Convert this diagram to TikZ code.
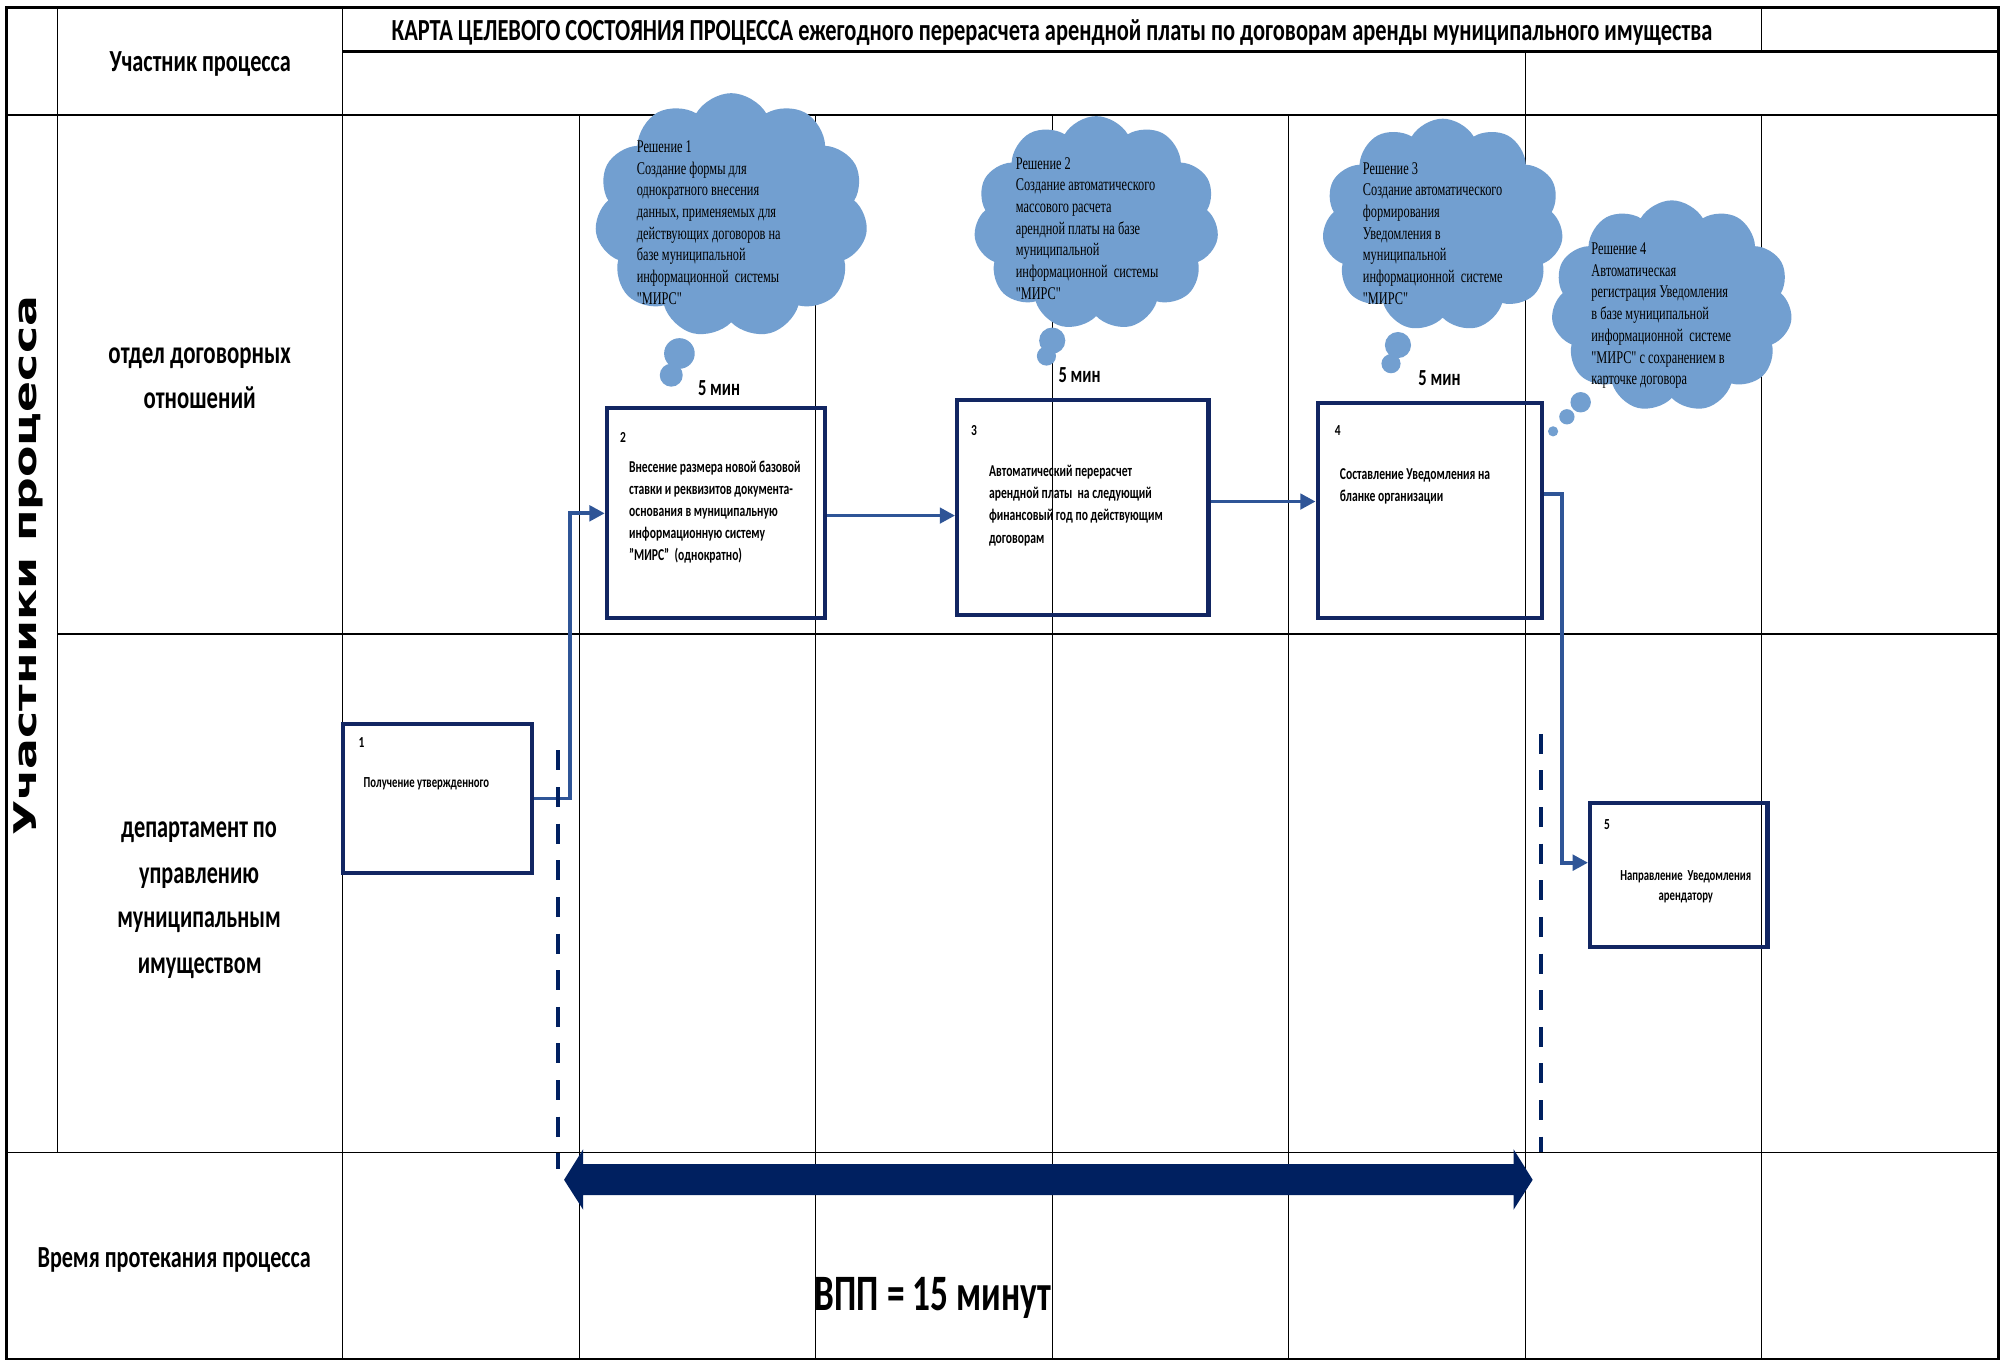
\documentclass[tikz,border=0pt]{standalone}
\usepackage{fontspec}
\setmainfont{Carlito}
\newfontfamily\tnrfont{Liberation Serif}
\newfontfamily\dvsfont{DejaVu Sans}
\usetikzlibrary{arrows.meta,shapes.callouts,shapes.symbols}
\definecolor{cloudc}{RGB}{114,159,208}
\definecolor{connc}{RGB}{47,85,151}
\definecolor{boxc}{RGB}{18,38,98}
\definecolor{navyc}{RGB}{0,32,96}
\newcommand{\fitw}[2]{\resizebox{#1}{\height}{#2}}
\newcommand{\cloudtext}[1]{\scalebox{0.69}[1]{\fontsize{14}{17}\tnrfont\begin{tabular}[t]{@{}l@{}}#1\end{tabular}}}
\newcommand{\boxtext}[3]{\scalebox{0.7}[1]{\fontsize{#1}{#2}\selectfont\bfseries\begin{tabular}[t]{@{}l@{}}#3\end{tabular}}}
\newcommand{\boxtextc}[3]{\scalebox{0.7}[1]{\fontsize{#1}{#2}\selectfont\bfseries\begin{tabular}[t]{@{}c@{}}#3\end{tabular}}}
\newcommand{\numtext}[1]{\scalebox{0.75}[1]{\fontsize{12}{14}\selectfont\bfseries #1}}
\begin{document}
\begin{tikzpicture}[x=1pt,y=-1pt,
  gridln/.style={line width=0.8pt,black},
  laneln/.style={line width=1.3pt,black},
  frameln/.style={line width=2pt,black},
  boxnode/.style={draw=boxc,line width=3.2pt,rectangle,inner sep=0pt},
  conn/.style={draw=connc,line width=3pt,-{Triangle[length=12pt,width=12pt]}},
  dashln/.style={draw=navyc,line width=3pt,dash pattern=on 15.7pt off 13pt},
  cloudsh/.style={cloud callout,cloud puffs=11,cloud puff arc=120,cloud ignores aspect,fill=cloudc,draw=none,inner sep=0pt},
  txt/.style={inner sep=0pt,outer sep=0pt}]
\useasboundingbox (0,0) rectangle (1568,1067);
\fill[white] (0,0) rectangle (1568,1067);

% ---- grid ----
\foreach \x in {453.8,639.1,824.4,1009.7,1195.0,1380.3} {\draw[gridln] (\x,90) -- (\x,1065);}
\draw[gridln] (1195,40.5) -- (1195,90);
\draw[gridln] (1380.3,6) -- (1380.3,40.5);
\draw[laneln] (45,497) -- (1566,497);
\draw[laneln] (5,903) -- (1566,903);
\draw[laneln] (45,6) -- (45,903);
\draw[laneln] (268.5,6) -- (268.5,1065);
\draw[frameln] (268.5,40.5) -- (1566,40.5);
\draw[frameln] (5,90) -- (1566,90);
\draw[frameln] (5,6) rectangle (1566,1065);

% ---- boxes ----
\node[boxnode,minimum width=148pt,minimum height=116.5pt] (b1) at (343,625.75) {};
\node[boxnode,minimum width=171pt,minimum height=164.5pt] (b2) at (561,402.25) {};
\node[boxnode,minimum width=197pt,minimum height=168.5pt] (b3) at (848.5,397.75) {};
\node[boxnode,minimum width=176pt,minimum height=169pt] (b4) at (1120.5,400) {};
\node[boxnode,minimum width=139pt,minimum height=112.5pt] (b5) at (1315.5,685.75) {};

% ---- connectors ----
\draw[conn] (b1.east) -- ++(28,0) |- (b2.west);
\draw[conn] (b2.east |- 0,404) -- (b3.west |- 0,404);
\draw[conn] (b3.east |- 0,393) -- (b4.west |- 0,393);
\draw[conn] (b4.east |- 0,387) -- ++(14,0) |- (b5.west |- 0,676);

% ---- dashed time marks ----
\coordinate (d1a) at (437,588);
\coordinate (d1b) at (437,916);
\coordinate (d2a) at (1207.5,575);
\coordinate (d2b) at (1207.5,903);
\draw[dashln] (d1a) -- (d1b);
\draw[dashln] (d2a) -- (d2b);

% ---- big double arrow ----
\fill[navyc] (442,924.5) -- (457,900.5) -- (457,912.2) -- (1186,912.2) -- (1186,900.5)
  -- (1201,924.5) -- (1186,948) -- (1186,936.5) -- (457,936.5) -- (457,948) -- cycle;

% ---- clouds ----
\node[cloudsh,minimum width=214pt,minimum height=192pt,
  callout absolute pointer={(526,294)},callout pointer segments=2,
  callout pointer start size=20pt and 30pt,callout pointer end size=12pt and 18pt] (c1) at (573,169) {};
\node[cloudsh,minimum width=192pt,minimum height=168pt,
  callout absolute pointer={(820,279)},callout pointer segments=2,
  callout pointer start size=18pt and 26pt,callout pointer end size=10pt and 15pt] (c2) at (859,175) {};
\node[cloudsh,minimum width=189pt,minimum height=167pt,
  callout absolute pointer={(1090,285)},callout pointer segments=2,
  callout pointer start size=18pt and 26pt,callout pointer end size=10pt and 15pt] (c3) at (1130.5,176.5) {};
\node[cloudsh,minimum width=189pt,minimum height=166pt,
  callout absolute pointer={(1217,338)},callout pointer segments=3,
  callout pointer start size=20pt,callout pointer end size=8pt] (c4) at (1310,240) {};

% ---- cloud texts ----
\node[txt,anchor=base west] (t1) at (499,119.5) {\cloudtext{Решение 1\\Создание формы для\\однократного внесения\\данных, применяемых для\\действующих договоров на\\базе муниципальной\\информационной\ \ системы\\"МИРС"}};
\node[txt,anchor=base west] (t2) at (796,132.5) {\cloudtext{Решение 2\\Создание автоматического\\массового расчета\\арендной платы на базе\\муниципальной\\информационной\ \ системы\\"МИРС"}};
\node[txt,anchor=base west] (t3) at (1068,136.5) {\cloudtext{Решение 3\\Создание автоматического\\формирования\\Уведомления в\\муниципальной\\информационной\ \ системе\\"МИРС"}};
\node[txt,anchor=base west] (t4) at (1247,199.5) {\cloudtext{Решение 4\\Автоматическая\\регистрация Уведомления\\в базе муниципальной\\информационной\ \ системе\\"МИРС" с сохранением в\\карточке договора}};

% ---- box texts ----
\node[txt,anchor=base west] (n1) at (281,586) {\numtext{1}};
\node[txt,anchor=base west] (n2) at (486,346.5) {\numtext{2}};
\node[txt,anchor=base west] (n3) at (761,341) {\numtext{3}};
\node[txt,anchor=base west] (n4) at (1046,341) {\numtext{4}};
\node[txt,anchor=base west] (n5) at (1257,650) {\numtext{5}};
\node[txt,anchor=base west] (x1) at (285,617) {\boxtext{12}{16}{Получение утвержденного}};
\node[txt,anchor=base west] (x2) at (493,370) {\boxtext{13}{17.4}{Внесение размера новой базовой\\ставки и реквизитов документа-\\основания в муниципальную\\информационную систему\\"МИРС"\ \ (однократно)}};
\node[txt,anchor=base west] (x3) at (775,373) {\boxtext{13}{17.6}{Автоматический перерасчет\\арендной платы\ \ на следующий\\финансовый год по действующим\\договорам}};
\node[txt,anchor=base west] (x4) at (1050,376) {\boxtext{13}{17}{Составление Уведомления на\\бланке организации}};
\node[txt,anchor=base] (x5) at (1321,690) {\boxtextc{12}{16}{Направление\ \ Уведомления\\арендатору}};

% ---- time labels ----
\node[txt,anchor=base] (m1) at (563.5,310) {\fitw{33pt}{\fontsize{18}{22}\selectfont\bfseries 5 мин}};
\node[txt,anchor=base] (m2) at (846,300) {\fitw{33pt}{\fontsize{18}{22}\selectfont\bfseries 5 мин}};
\node[txt,anchor=base] (m3) at (1128,302) {\fitw{33pt}{\fontsize{18}{22}\selectfont\bfseries 5 мин}};

% ---- headers ----
\node[txt,anchor=base] (title) at (824.4,31.5) {\fitw{1035pt}{\fontsize{24}{28}\selectfont\bfseries КАРТА ЦЕЛЕВОГО СОСТОЯНИЯ ПРОЦЕССА ежегодного перерасчета арендной платы по договорам аренды муниципального имущества}};
\node[txt,anchor=base] (hdr) at (157,56) {\fitw{142pt}{\fontsize{24}{28}\selectfont\bfseries Участник процесса}};
\node[txt,anchor=base] (l1a) at (156.5,285) {\fitw{143pt}{\fontsize{25}{30}\selectfont\bfseries отдел договорных}};
\node[txt,anchor=base] (l1b) at (156.5,320) {\fitw{88pt}{\fontsize{25}{30}\selectfont\bfseries отношений}};
\node[txt,anchor=base] (l2a) at (156,656) {\fitw{122pt}{\fontsize{25}{30}\selectfont\bfseries департамент по}};
\node[txt,anchor=base] (l2b) at (156,692) {\fitw{94pt}{\fontsize{25}{30}\selectfont\bfseries управлению}};
\node[txt,anchor=base] (l2c) at (156,727) {\fitw{128pt}{\fontsize{25}{30}\selectfont\bfseries муниципальным}};
\node[txt,anchor=base] (l2d) at (156.5,763) {\fitw{97pt}{\fontsize{25}{30}\selectfont\bfseries имуществом}};
\node[txt] (side) at (22,443.5) {\rotatebox{90}{\resizebox{423pt}{0.7\height}{\fontsize{35}{40}\dvsfont\bfseries Участники процесса}}};
\node[txt,anchor=base] (tm) at (136.5,993) {\fitw{214pt}{\fontsize{24}{28}\selectfont\bfseries Время протекания процесса}};
\node[txt,anchor=base] (vpp) at (731,1027) {\fitw{185pt}{\fontsize{40}{46}\selectfont\bfseries ВПП = 15 минут}};
\end{tikzpicture}
\end{document}
